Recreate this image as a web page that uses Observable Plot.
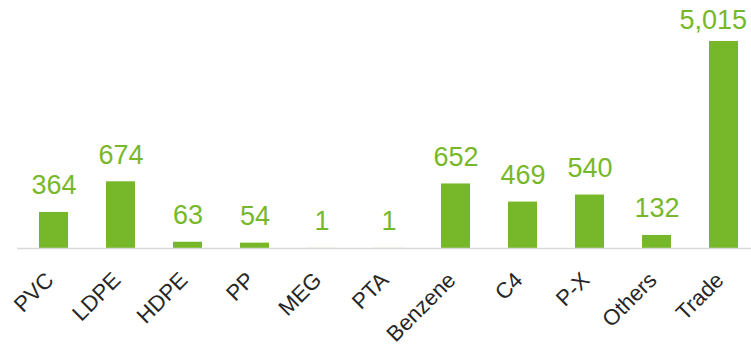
<!DOCTYPE html>
<html>
<head>
<meta charset="utf-8">
<script src="https://cdn.jsdelivr.net/npm/d3@7"></script>
<script src="https://cdn.jsdelivr.net/npm/@observablehq/plot@0.6"></script>
<style>
  html, body { margin: 0; padding: 0; background: #fff; }
</style>
</head>
<body>
<div id="chart"></div>
<script>
const categories = ["PVC", "LDPE", "HDPE", "PP", "MEG", "PTA", "Benzene", "C4", "P-X", "Others", "Trade"];
const values = [364, 674, 63, 54, 1, 1, 652, 469, 540, 132, 5015];

const data = categories.map((c, i) => ({category: c, value: values[i], last: i === categories.length - 1}));
const green = "#77b82a";
const fmt = d3.format(",");

const labelOpts = {
  x: "category",
  y: "value",
  text: d => fmt(d.value),
  fill: green,
  fontSize: 27,
  lineAnchor: "bottom",
  dy: -18
};

const chart = Plot.plot({
  width: 751,
  height: 348,
  marginLeft: 17,
  marginRight: 0,
  marginTop: 0,
  marginBottom: 100,
  style: {fontFamily: "'Liberation Sans', Arial, sans-serif", background: "#fff"},
  x: {
    domain: categories,
    range: [16.75, 759.25],
    paddingInner: 0.57,
    paddingOuter: 0.285,
    label: null
  },
  y: {
    type: "linear",
    domain: [0, 700, 5015],
    range: [248, 178.7, 41],
    axis: null,
    label: null
  },
  marks: [
    Plot.barY(data, {x: "category", y: "value", fill: green}),
    Plot.ruleY([0], {stroke: "#d9d9d9", strokeWidth: 1.5}),
    Plot.text(data.filter(d => !d.last), labelOpts),
    Plot.text(data.filter(d => d.last), {...labelOpts, textAnchor: "end", dx: 23, dy: -13}),
    Plot.axisX({
      tickSize: 0,
      tickPadding: 28,
      tickRotate: -45,
      fontSize: 22,
      fill: "#262626",
      dx: -4,
      label: null
    })
  ]
});
document.getElementById("chart").appendChild(chart);
</script>
</body>
</html>
